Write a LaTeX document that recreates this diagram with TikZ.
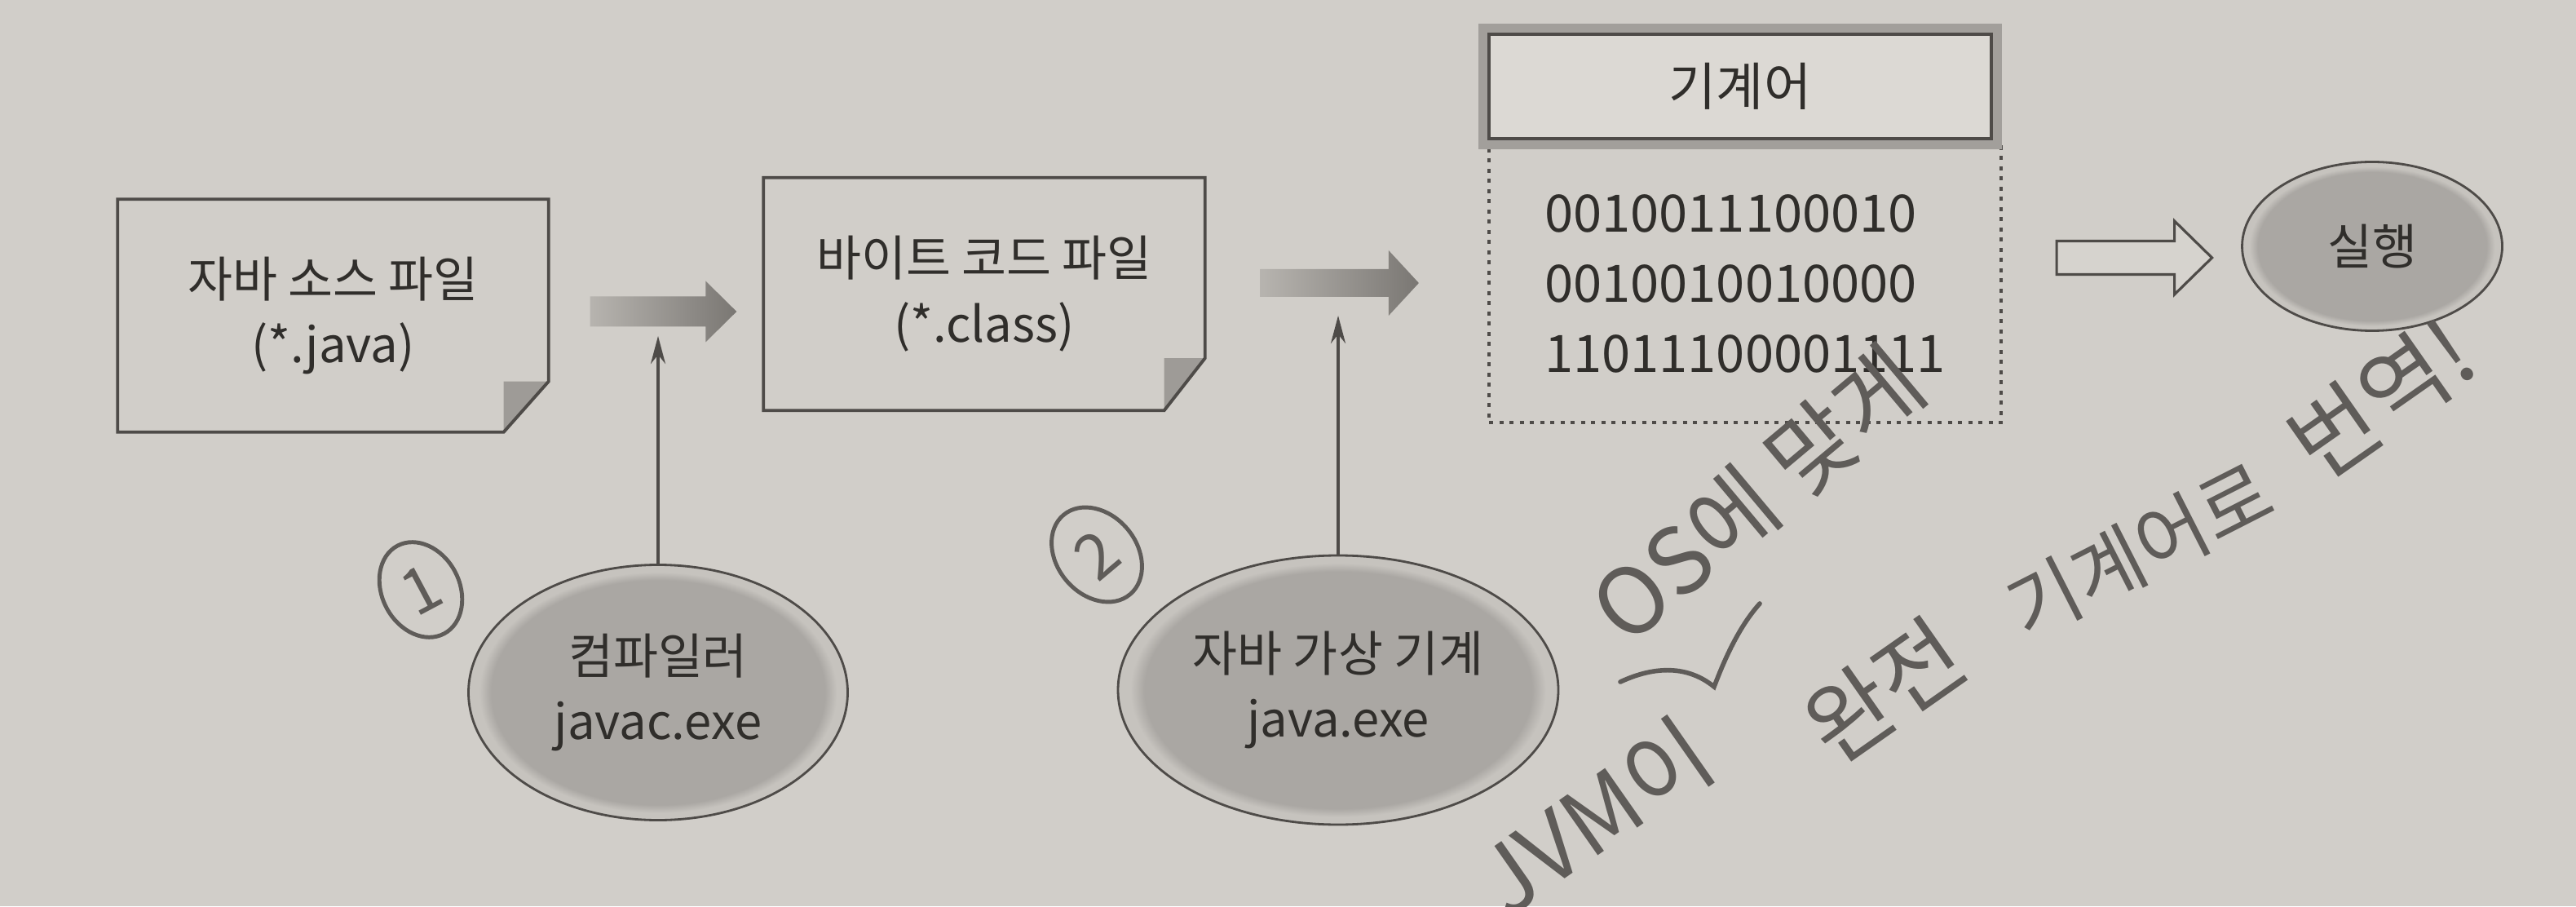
\documentclass[tikz,border=0pt]{standalone}
\usepackage{fontspec}
\setmainfont{Noto Sans CJK KR}
\usetikzlibrary{shapes.geometric,arrows.meta,calc}

\definecolor{paper}{HTML}{D1CEC9}
\definecolor{ink}{HTML}{302E2B}
\definecolor{rule}{HTML}{4E4B48}
\definecolor{flowgray}{HTML}{7A7773}
\definecolor{ovalfill}{HTML}{AAA7A3}
\definecolor{ovalring}{HTML}{C6C3BE}
\definecolor{headfill}{HTML}{DCD9D4}
\definecolor{framegray}{HTML}{A29F9B}
\definecolor{foldgray}{HTML}{9E9B97}
\definecolor{hollowfill}{HTML}{D6D3CE}
\definecolor{pencil}{HTML}{5F5C59}

\pgfdeclareradialshading{ovalshade}{\pgfpoint{0cm}{0cm}}{color(0bp)=(ovalfill); color(22bp)=(ovalfill); color(23.6bp)=(ovalring); color(25bp)=(ovalring); color(50bp)=(ovalring)}

\tikzset{
  inktext/.style={text=ink, align=center, font=\fontsize{17}{23}\selectfont},
  filebox/.style={inktext, rectangle, minimum height=2.84cm},
  fileedge/.style={draw=rule, line width=1.1pt, line join=miter},
  fold/.style={fill=foldgray},
  tool/.style={inktext, ellipse, draw=rule, line width=0.8pt, shade, shading=ovalshade},
  headbox/.style={inktext, rectangle, fill=headfill, draw=rule, line width=0.9pt,
    preaction={draw=framegray, line width=0.26cm},
    minimum width=6.16cm, minimum height=1.28cm, font=\fontsize{18}{23}\selectfont},
  codebox/.style={rectangle, draw=rule, line width=1.2pt, dash pattern=on 0.05cm off 0.075cm,
    text=ink, align=left, font=\fontsize{18}{24.5}\selectfont, minimum width=6.28cm, minimum height=3.4cm},
  flow/.style={left color=flowgray!30!paper, right color=flowgray},
  hollow/.style={draw=rule, line width=0.9pt, fill=hollowfill, line join=miter},
  feed/.style={draw=rule, line width=1pt, -{Stealth[length=0.34cm, width=0.18cm]}},
  hand/.style={text=pencil, font=\fontsize{32}{34}\selectfont},
  handline/.style={draw=pencil, line width=1.6pt, line cap=round},
}

\begin{document}
\begin{tikzpicture}
\useasboundingbox (0,0) rectangle (31.59,11.11);
\fill[paper] (0,0) rectangle (31.59,11.11);

% files
\node[filebox, minimum width=5.27cm] (src) at (4.085,7.24) {자바 소스 파일\\(*.java)};
\node[filebox, minimum width=5.40cm] (bc) at (12.07,7.505) {바이트 코드 파일\\(*.class)};

\fill[fold] ([xshift=-5.5mm,yshift=6.2mm]src.south east) -- ([yshift=6.2mm]src.south east) -- ([xshift=-5.5mm]src.south east) -- cycle;
\draw[fileedge] (src.north west) -- (src.north east) -- ([yshift=6.2mm]src.south east) -- ([xshift=-5.5mm]src.south east) -- (src.south west) -- cycle;
\fill[fold] ([xshift=-5mm,yshift=6.4mm]bc.south east) -- ([yshift=6.4mm]bc.south east) -- ([xshift=-5mm]bc.south east) -- cycle;
\draw[fileedge] (bc.north west) -- (bc.north east) -- ([yshift=6.4mm]bc.south east) -- ([xshift=-5mm]bc.south east) -- (bc.south west) -- cycle;

% machine code
\node[codebox] (code) at (21.40,7.63) {0010011100010\\0010010010000\\11011100001111};
\node[headbox] (head) at (21.34,10.05) {기계어};

% run
\node[tool, minimum width=3.19cm, minimum height=2.07cm] (run) at (29.09,8.09) {실행};

% tools
\node[tool, minimum width=4.65cm, minimum height=3.13cm] (comp) at (8.07,2.62) {컴파일러\\javac.exe};
\node[tool, minimum width=5.4cm, minimum height=3.3cm] (jvm) at (16.41,2.65) {자바 가상 기계\\java.exe};

% flow arrows
\coordinate (f1a) at ([xshift=5.1mm,yshift=0.5mm]src.east);
\coordinate (f1b) at ([xshift=-3.3mm,yshift=-2.15mm]bc.west);
\shade[flow] ($(f1a)+(0,1.85mm)$) -- ($(f1b)+(-3.8mm,1.85mm)$) -- ($(f1b)+(-3.8mm,3.75mm)$) -- (f1b)
  -- ($(f1b)+(-3.8mm,-3.75mm)$) -- ($(f1b)+(-3.8mm,-1.85mm)$) -- ($(f1a)+(0,-1.85mm)$) -- cycle;

\coordinate (f2a) at ([xshift=6.8mm,yshift=1.35mm]bc.east);
\coordinate (f2b) at ([xshift=-8.4mm,yshift=0.1mm]code.west);
\shade[flow] ($(f2a)+(0,1.7mm)$) -- ($(f2b)+(-3.7mm,1.7mm)$) -- ($(f2b)+(-3.7mm,4mm)$) -- (f2b)
  -- ($(f2b)+(-3.7mm,-4mm)$) -- ($(f2b)+(-3.7mm,-1.7mm)$) -- ($(f2a)+(0,-1.7mm)$) -- cycle;

\coordinate (h1a) at ([xshift=6.6mm,yshift=3.2mm]code.east);
\coordinate (h1b) at ([xshift=-3.55mm,yshift=-1.4mm]run.west);
\draw[hollow] ($(h1a)+(0,2.05mm)$) -- ($(h1b)+(-4.6mm,2.05mm)$) -- ($(h1b)+(-4.6mm,4.5mm)$) -- (h1b)
  -- ($(h1b)+(-4.6mm,-4.5mm)$) -- ($(h1b)+(-4.6mm,-2.05mm)$) -- ($(h1a)+(0,-2.05mm)$) -- cycle;

% tool arrows
\coordinate (t1) at (8.07,6.99);
\coordinate (t2) at (16.41,7.24);
\draw[feed] (comp) -- (t1);
\draw[feed] (jvm) -- (t2);

% pencil notes
\node[hand, draw=pencil, ellipse, line width=1.4pt, inner sep=0pt, minimum width=0.95cm, minimum height=1.22cm,
  rotate=28, font=\fontsize{22}{22}\selectfont] (one) at (5.16,3.88) {1};
\node[hand, draw=pencil, ellipse, line width=1.4pt, inner sep=0pt, minimum width=0.98cm, minimum height=1.27cm,
  rotate=40, font=\fontsize{22}{22}\selectfont] (two) at (13.45,4.31) {2};
\node[hand, rotate=40] (os) at (21.55,5.05) {OS에 맞게};
\draw[handline] (19.87,2.75) .. controls (20.3,2.95) and (20.7,2.95) .. (21.02,2.69)
  .. controls (21.12,2.95) and (21.3,3.4) .. (21.58,3.71);
\node[hand, rotate=35] (jvmnote) at (19.55,1.1) {JVM이};
\node[hand, rotate=35] (whole) at (23.10,2.65) {완전};
\node[hand, rotate=27, font=\fontsize{27}{29}\selectfont] (machnote) at (26.24,4.36) {기계어로};
\node[hand, rotate=35] (trans) at (29.2,6.22) {번역!};
\end{tikzpicture}
\end{document}
